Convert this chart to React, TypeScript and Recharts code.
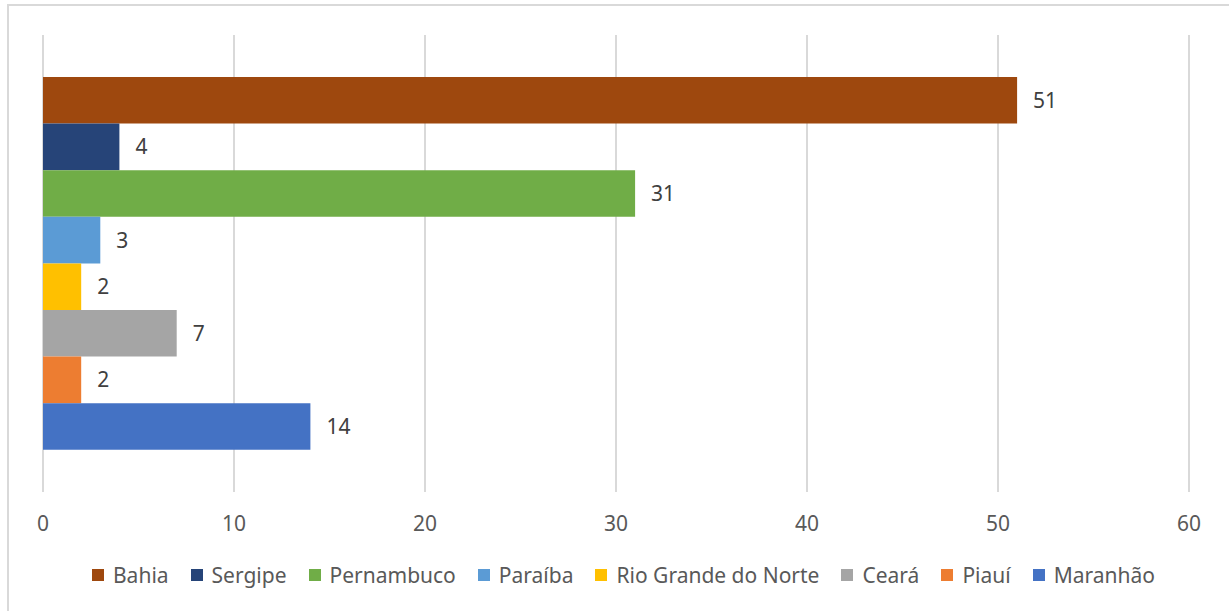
import React from 'react';
import { BarChart, Bar, XAxis, YAxis, CartesianGrid, Legend, LabelList } from 'recharts';

const states = ['Bahia', 'Sergipe', 'Pernambuco', 'Paraíba', 'Rio Grande do Norte', 'Ceará', 'Piauí', 'Maranhão'];
const counts = [51, 4, 31, 3, 2, 7, 2, 14];
const colors = ['#9E480E', '#264478', '#70AD47', '#5B9BD5', '#FFC000', '#A5A5A5', '#ED7D31', '#4472C4'];
const xTicks = [0, 10, 20, 30, 40, 50, 60];

const row: Record<string, string | number> = { name: 'Estados' };
states.forEach((s, i) => {
  row[s] = counts[i];
});
const data = [row];

const font = '"Noto Sans", "Open Sans", sans-serif';

// legend keeps the series order (recharts would sort it by name)
const LegendBox = () => (
  <div style={{ display: 'flex', justifyContent: 'center', fontFamily: font, fontSize: 21, color: '#595959', paddingLeft: 40 }}>
    {states.map((s, i) => (
      <div key={`leg-${i}`} style={{ display: 'flex', alignItems: 'center', marginRight: 22 }}>
        <span style={{ display: 'inline-block', width: 12, height: 12, background: colors[i], marginRight: 9 }} />
        <span>{s}</span>
      </div>
    ))}
  </div>
);

const App: React.FC = () => {
  return (
    <div style={{ position: 'absolute', left: 0, top: 0, width: 1229, height: 611, background: '#fff' }}>
      <div style={{ position: 'absolute', left: 7, top: 4, width: 1240, height: 620, borderLeft: '2px solid #d9d9d9', borderTop: '2px solid #d9d9d9' }} />
      <BarChart
        width={1229}
        height={611}
        data={data}
        layout="vertical"
        margin={{ top: 35, right: 40, left: 43, bottom: 79 }}
        barSize={46.6}
        barGap={0}
      >
        <CartesianGrid horizontal={false} stroke="#d9d9d9" strokeWidth={2} />
        <XAxis
          type="number"
          domain={[0, 60]}
          ticks={xTicks}
          axisLine={false}
          tickLine={false}
          tickMargin={18}
          height={40}
          tick={{ fill: '#595959', fontSize: 21, fontFamily: font }}
        />
        <YAxis type="category" dataKey="name" hide />
        {states.map((s, i) => (
          <Bar key={s} dataKey={s} fill={colors[i]} isAnimationActive={false}>
            <LabelList dataKey={s} position="right" offset={16} fill="#404040" fontSize={21} fontFamily={font} />
          </Bar>
        ))}
        <Legend verticalAlign="middle" align="center" content={<LegendBox />} wrapperStyle={{ top: 561, left: 0, width: 1229 }} />
      </BarChart>
    </div>
  );
};

export default App;
